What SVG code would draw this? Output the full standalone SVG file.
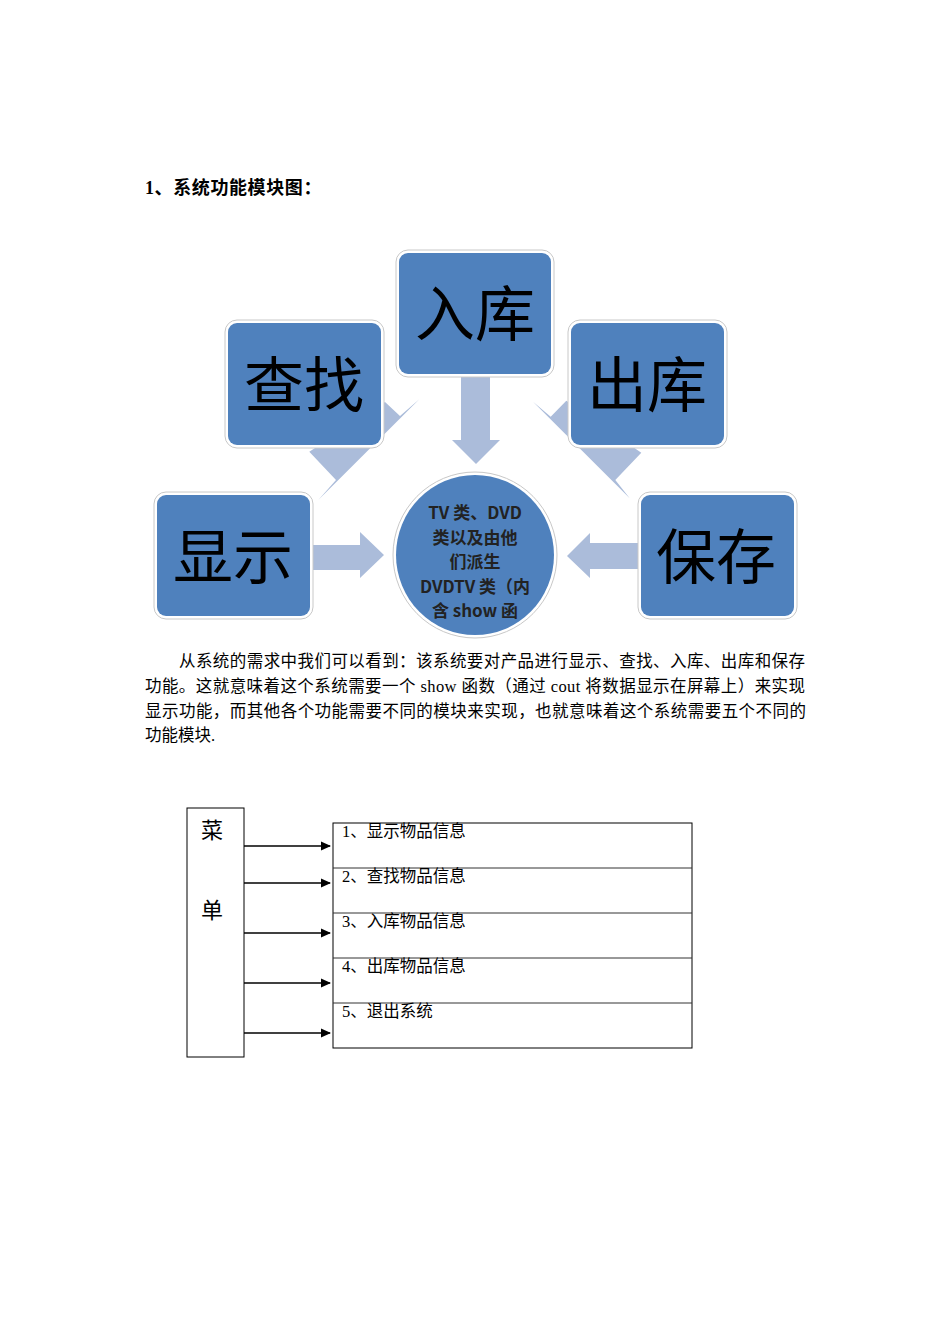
<svg xmlns="http://www.w3.org/2000/svg" width="950" height="1344" viewBox="0 0 950 1344">
<style>
.bg{fill:#ffffff}
.frame{fill:#ffffff;stroke:#c8c8c8;stroke-width:1}
.blue{fill:#4f81bd}
.arr{fill:#abbcda}
.big{font-family:"Noto Sans CJK SC",sans-serif;font-size:60px;fill:#000;text-anchor:middle}
.ctext{font-family:"Noto Sans CJK SC",sans-serif;font-size:17px;font-weight:bold;fill:#222;text-anchor:middle}
.title{font-family:"Liberation Serif","Noto Sans CJK SC",serif;font-size:18px;font-weight:bold;fill:#000;letter-spacing:0.6px}
.para{font-family:"Liberation Serif","Noto Sans CJK SC",serif;font-size:16.5px;fill:#000}
.menu{font-family:"Liberation Serif","Noto Sans CJK SC",serif;font-size:22px;fill:#000;text-anchor:middle}
.row{font-family:"Liberation Serif","Noto Sans CJK SC",serif;font-size:16.5px;fill:#000}
.line{stroke:#000;stroke-width:1.3;fill:none}
.box{fill:none;stroke:#000;stroke-width:1}
.div{stroke:#333;stroke-width:1}
</style>
<defs>
<marker id="ah" markerWidth="10" markerHeight="10" refX="9" refY="5" orient="auto" markerUnits="userSpaceOnUse">
<path d="M0,0.5 L10,5 L0,9.5 Z" fill="#000"/>
</marker>
</defs>
<rect class="bg" x="0" y="0" width="950" height="1344"/>
<text class="title" x="145" y="194">1、系统功能模块图：</text>

<g id="connectors">
<polygon class="arr" points="461,370 490,370 490,440 500,440 476,464 452,440 461,440"/>
<polygon class="arr" points="419.3,399.3 400,416 385,402 309.3,451.7 336,480 318.3,500"/>
<polygon class="arr" points="533,401.7 550.7,416.7 566.3,400.7 641.3,452.7 615.3,480 629.7,498.3"/>
<polygon class="arr" points="305,545 360,545 360,532 384,555 360,578 360,570 305,570"/>
<polygon class="arr" points="645,543 590,543 590,533 567,556 590,578 590,569 645,569"/>
</g>

<g id="node-ruku">
<rect class="frame" x="396" y="250" width="158" height="127" rx="12"/>
<rect class="blue" x="399" y="253" width="152" height="121" rx="9"/>
<text class="big" x="475" y="336">入库</text>
</g>
<g id="node-chazhao">
<rect class="frame" x="225" y="320" width="159" height="128" rx="12"/>
<rect class="blue" x="228" y="323" width="153" height="122" rx="9"/>
<text class="big" x="304" y="407">查找</text>
</g>
<g id="node-chuku">
<rect class="frame" x="568" y="320" width="159" height="128" rx="12"/>
<rect class="blue" x="571" y="323" width="153" height="122" rx="9"/>
<text class="big" x="647" y="407">出库</text>
</g>
<g id="node-xianshi">
<rect class="frame" x="154" y="492" width="159" height="127" rx="12"/>
<rect class="blue" x="157" y="495" width="153" height="121" rx="9"/>
<text class="big" x="233" y="579">显示</text>
</g>
<g id="node-baocun">
<rect class="frame" x="638" y="492" width="159" height="127" rx="12"/>
<rect class="blue" x="641" y="495" width="153" height="121" rx="9"/>
<text class="big" x="716" y="579">保存</text>
</g>
<g id="node-center">
<ellipse class="frame" cx="475" cy="555" rx="82" ry="83"/>
<ellipse class="blue" cx="475" cy="555" rx="79" ry="80"/>
<text class="ctext" x="475" y="519">TV 类、DVD</text>
<text class="ctext" x="475" y="544">类以及由他</text>
<text class="ctext" x="475" y="568">们派生</text>
<text class="ctext" x="475" y="593">DVDTV 类（内</text>
<text class="ctext" x="475" y="617">含 show 函</text>
</g>

<g id="paragraph">
<text class="para" x="179" y="667" textLength="626" lengthAdjust="spacing">从系统的需求中我们可以看到：该系统要对产品进行显示、查找、入库、出库和保存</text>
<text class="para" x="145" y="692" textLength="660" lengthAdjust="spacing">功能。这就意味着这个系统需要一个 show 函数（通过 cout 将数据显示在屏幕上）来实现</text>
<text class="para" x="145" y="716.5" textLength="661" lengthAdjust="spacing">显示功能，而其他各个功能需要不同的模块来实现，也就意味着这个系统需要五个不同的</text>
<text class="para" x="145" y="741">功能模块.</text>
</g>

<g id="node-menu">
<rect class="box" x="187" y="808" width="57" height="249"/>
<text class="menu" x="212" y="838">菜</text>
<text class="menu" x="212" y="918">单</text>
</g>
<g id="node-items">
<rect class="box" x="333" y="823" width="359" height="225"/>
<line class="div" x1="333" y1="868" x2="692" y2="868"/>
<line class="div" x1="333" y1="913" x2="692" y2="913"/>
<line class="div" x1="333" y1="958" x2="692" y2="958"/>
<line class="div" x1="333" y1="1003" x2="692" y2="1003"/>
<text class="row" x="342" y="837">1、显示物品信息</text>
<text class="row" x="342" y="882">2、查找物品信息</text>
<text class="row" x="342" y="927">3、入库物品信息</text>
<text class="row" x="342" y="972">4、出库物品信息</text>
<text class="row" x="342" y="1017">5、退出系统</text>
</g>
<g id="menu-connectors">
<line class="line" x1="244" y1="846" x2="330" y2="846" marker-end="url(#ah)"/>
<line class="line" x1="244" y1="883" x2="330" y2="883" marker-end="url(#ah)"/>
<line class="line" x1="244" y1="933" x2="330" y2="933" marker-end="url(#ah)"/>
<line class="line" x1="244" y1="983" x2="330" y2="983" marker-end="url(#ah)"/>
<line class="line" x1="244" y1="1033" x2="330" y2="1033" marker-end="url(#ah)"/>
</g>
</svg>
